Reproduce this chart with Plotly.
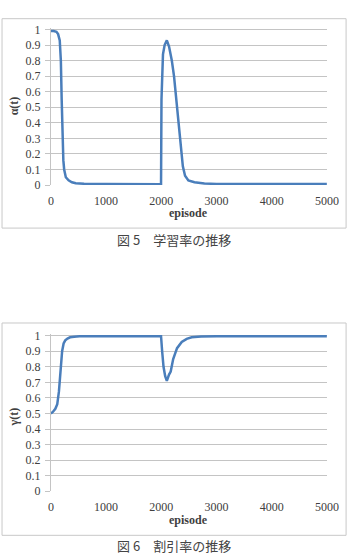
import plotly.graph_objects as go

# ---- data ----
alpha_episode = [0, 50, 100, 130, 160, 180, 195, 210, 225, 240, 270, 320, 380, 450, 600, 1000, 1500, 1995,
                 2003, 2030, 2060, 2100, 2140, 2190, 2230, 2257, 2285, 2310, 2343, 2390, 2430, 2490, 2600, 2780,
                 3000, 4000, 5000]
alpha_value = [0.99, 0.99, 0.985, 0.97, 0.93, 0.8, 0.55, 0.3, 0.16, 0.1, 0.05, 0.03, 0.018, 0.012, 0.008,
               0.006, 0.005, 0.005,
               0.55, 0.84, 0.9, 0.93, 0.89, 0.8, 0.7, 0.6, 0.47, 0.4, 0.3, 0.12, 0.06, 0.03, 0.018, 0.01,
               0.007, 0.006, 0.006]

gamma_episode = [0, 35, 80, 115, 145, 174, 203, 230, 260, 300, 347, 420, 520, 1000, 1500, 1995,
                 2015, 2040, 2070, 2100, 2140, 2170, 2215, 2285, 2370, 2460, 2550, 2720, 3000, 4000, 5000]
gamma_value = [0.5, 0.51, 0.53, 0.56, 0.64, 0.75, 0.9, 0.95, 0.97, 0.982, 0.99, 0.994, 0.996, 0.997, 0.997, 0.997,
               0.9, 0.8, 0.74, 0.71, 0.75, 0.77, 0.85, 0.92, 0.96, 0.98, 0.99, 0.995, 0.997, 0.997, 0.997]

y_ticks = [0, 0.1, 0.2, 0.3, 0.4, 0.5, 0.6, 0.7, 0.8, 0.9, 1]
y_tick_labels = ["0", "0.1", "0.2", "0.3", "0.4", "0.5", "0.6", "0.7", "0.8", "0.9", "1"]
x_ticks = [0, 1000, 2000, 3000, 4000, 5000]
x_tick_labels = ["0", "1000", "2000", "3000", "4000", "5000"]

W, H = 360, 557
LINE = "#4a7ebb"
GRID = "#c4c4c4"
TXT = "#404040"
SERIF = "Liberation Serif, DejaVu Serif, serif"

fig = go.Figure()
fig.add_trace(go.Scatter(x=alpha_episode, y=alpha_value, mode="lines",
                         line=dict(color=LINE, width=2.5), xaxis="x", yaxis="y", showlegend=False))
fig.add_trace(go.Scatter(x=gamma_episode, y=gamma_value, mode="lines",
                         line=dict(color=LINE, width=2.5), xaxis="x2", yaxis="y2", showlegend=False))

def px_y(p):
    return 1 - p / H

xdom = [50 / W, 338 / W]
ax_common = dict(range=[0, 5000], tickvals=x_ticks, ticktext=x_tick_labels, showgrid=False,
                 zeroline=False, showline=False, ticks="", ticklabelstandoff=7,
                 tickfont=dict(family=SERIF, size=12, color=TXT))
ay_common = dict(range=[0, 1.012], tickvals=y_ticks, ticktext=y_tick_labels, showgrid=True,
                 gridcolor=GRID, gridwidth=1, zeroline=False, showline=True, linecolor=GRID, linewidth=1,
                 ticks="outside", ticklen=5, tickcolor=GRID, ticklabelstandoff=2,
                 tickfont=dict(family=SERIF, size=12, color=TXT))

fig.update_layout(
    width=W, height=H, margin=dict(l=0, r=0, t=0, b=0),
    paper_bgcolor="white", plot_bgcolor="white",
    xaxis=dict(domain=xdom, anchor="y", **ax_common),
    yaxis=dict(domain=[px_y(184), px_y(184 - 159 * 1.012)], anchor="x", **ay_common),
    xaxis2=dict(domain=xdom, anchor="y2", **ax_common),
    yaxis2=dict(domain=[px_y(497), px_y(497 - 159 * 1.012)], anchor="x2", **ay_common),
)

shapes = [
    dict(type="rect", xref="paper", yref="paper", x0=-1 / W, x1=358 / W, y0=px_y(228), y1=px_y(14),
         line=dict(color="#c8c8c8", width=1), fillcolor="rgba(0,0,0,0)", layer="below"),
    dict(type="rect", xref="paper", yref="paper", x0=-1 / W, x1=358 / W, y0=px_y(542), y1=px_y(325),
         line=dict(color="#c8c8c8", width=1), fillcolor="rgba(0,0,0,0)", layer="below"),
]
fig.update_layout(shapes=shapes)

ann = []
for label, yc in [("α(t)", 103), ("γ(t)", 421)]:
    ann.append(dict(text="<b>%s</b>" % label, xref="paper", yref="paper", x=11 / W, y=px_y(yc),
                    textangle=-90, showarrow=False, xanchor="center", yanchor="middle",
                    font=dict(family=SERIF, size=12, color=TXT)))
for yc in [213, 526]:
    ann.append(dict(text="<b>episode</b>", xref="paper", yref="paper", x=194 / W, y=px_y(yc),
                    showarrow=False, xanchor="center", yanchor="middle",
                    font=dict(family=SERIF, size=12, color=TXT)))
for label, yc in [("図 5　学習率の推移", 240), ("図 6　割引率の推移", 552)]:
    ann.append(dict(text=label, xref="paper", yref="paper", x=178 / W, y=px_y(yc),
                    showarrow=False, xanchor="center", yanchor="middle",
                    font=dict(family="Noto Sans CJK JP", size=13, color="#444444")))
fig.update_layout(annotations=ann)

fig.write_html("out.html")
